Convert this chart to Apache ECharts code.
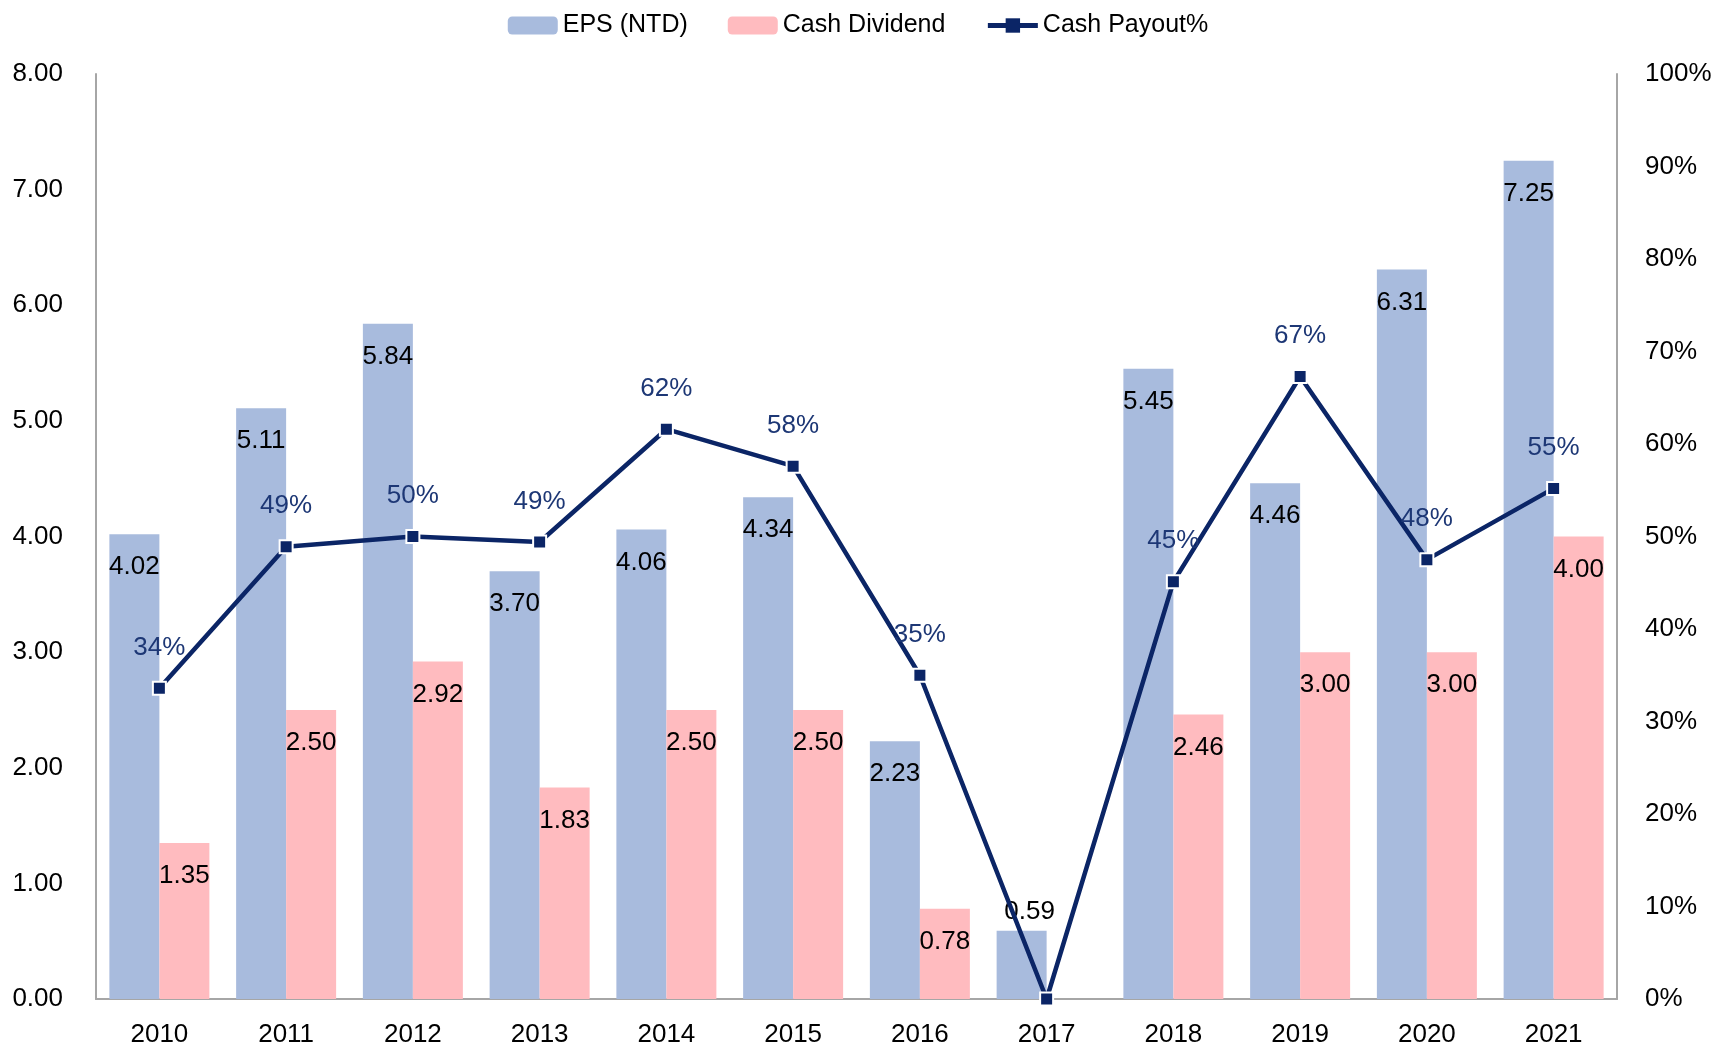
<!DOCTYPE html>
<html>
<head>
<meta charset="utf-8">
<script src="https://cdn.jsdelivr.net/npm/echarts@6/dist/echarts.min.js"></script>
<style>
  html, body { margin: 0; padding: 0; background: #fff; }
  #chart { width: 1716px; height: 1048px; }
</style>
</head>
<body>
<div id="chart"></div>
<script>
// data
const years = ['2010', '2011', '2012', '2013', '2014', '2015', '2016', '2017', '2018', '2019', '2020', '2021']
const eps = [4.02, 5.11, 5.84, 3.70, 4.06, 4.34, 2.23, 0.59, 5.45, 4.46, 6.31, 7.25]
const cashDividend = [1.35, 2.50, 2.92, 1.83, 2.50, 2.50, 0.78, '-', 2.46, 3.00, 3.00, 4.00]
const cashPayout = [33.6, 48.9, 50.0, 49.4, 61.6, 57.6, 35.0, 0, 45.1, 67.3, 47.5, 55.2]

const font = 'Liberation Sans, Arial, sans-serif'
const navy = '#0B2566'

const chart = echarts.init(document.getElementById('chart'))

chart.setOption({
  animation: false,
  textStyle: { fontFamily: font },
  legend: {
    top: 8,
    left: 'center',
    itemWidth: 50,
    itemHeight: 18,
    itemGap: 40,
    textStyle: { fontFamily: font, fontSize: 25, color: '#000' },
    data: [
      'EPS (NTD)',
      'Cash Dividend',
      { name: 'Cash Payout%', lineStyle: { width: 5 }, itemStyle: { borderWidth: 0 } }
    ]
  },
  grid: {
    left: 96,
    right: 99,
    top: 74,
    bottom: 48,
    containLabel: false
  },
  xAxis: {
    type: 'category',
    data: years,
    axisTick: { show: false },
    axisLine: { lineStyle: { color: '#A6A6A6', width: 2 } },
    axisLabel: { fontFamily: font, fontSize: 26, color: '#000', margin: 23 }
  },
  yAxis: [
    {
      type: 'value',
      min: 0,
      max: 8,
      interval: 1,
      splitLine: { show: false },
      axisTick: { show: false },
      axisLine: { show: true, lineStyle: { color: '#A6A6A6', width: 2 } },
      axisLabel: {
        fontFamily: font, fontSize: 26, color: '#000', margin: 33,
        formatter: v => v.toFixed(2)
      }
    },
    {
      type: 'value',
      min: 0,
      max: 100,
      interval: 10,
      splitLine: { show: false },
      axisTick: { show: false },
      axisLine: { show: true, lineStyle: { color: '#A6A6A6', width: 2 } },
      axisLabel: {
        fontFamily: font, fontSize: 26, color: '#000', margin: 28,
        formatter: '{value}%'
      }
    }
  ],
  series: [
    {
      name: 'EPS (NTD)',
      type: 'bar',
      data: eps,
      barWidth: 50,
      barGap: '0%',
      itemStyle: { color: '#A8BBDD' },
      label: {
        show: true,
        position: 'insideTop',
        distance: 20,
        fontFamily: font,
        fontSize: 26,
        color: '#000',
        formatter: p => p.value.toFixed(2)
      },
      // short bar: label goes above it
      labelLayout: p => (p.rect.height < 80
        ? { x: p.rect.x + p.rect.width / 2 + 8, y: p.rect.y - 32, align: 'center' }
        : {})
    },
    {
      name: 'Cash Dividend',
      type: 'bar',
      data: cashDividend,
      barWidth: 50,
      itemStyle: { color: '#FFBBBF' },
      label: {
        show: true,
        position: 'insideTop',
        distance: 20,
        fontFamily: font,
        fontSize: 26,
        color: '#000',
        formatter: p => p.value.toFixed(2)
      }
    },
    {
      name: 'Cash Payout%',
      type: 'line',
      yAxisIndex: 1,
      data: cashPayout,
      symbol: 'rect',
      symbolSize: 13,
      lineStyle: { color: navy, width: 4.5 },
      itemStyle: { color: navy, borderColor: '#fff', borderWidth: 2 },
      z: 5,
      label: {
        show: true,
        position: 'top',
        distance: 20,
        fontFamily: font,
        fontSize: 26,
        color: '#1D3775',
        formatter: p => (p.value === 0 ? '' : Math.round(p.value) + '%')
      }
    }
  ]
})
</script>
</body>
</html>
